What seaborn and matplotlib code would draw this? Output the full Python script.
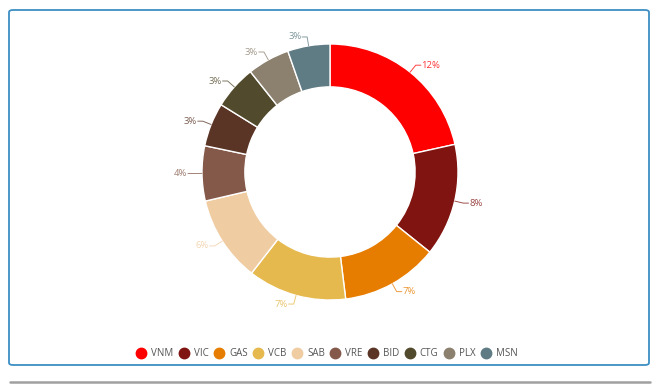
import matplotlib
matplotlib.use("Agg")
import matplotlib.pyplot as plt
from matplotlib.patches import FancyBboxPatch
from matplotlib.lines import Line2D
import numpy as np
import seaborn as sns

tickers = ["VNM", "VIC", "GAS", "VCB", "SAB", "VRE", "BID", "CTG", "PLX", "MSN"]
weights = [12.1, 8.0, 6.9, 7.0, 6.1, 3.9, 3.1, 3.1, 3.0, 3.0]
labels = ["12%", "8%", "7%", "7%", "6%", "4%", "3%", "3%", "3%", "3%"]
colors = ["#FF0000", "#7F1410", "#E67C00", "#E5B94D", "#F0CCA2",
          "#85594A", "#5A3526", "#524A2C", "#8C806F", "#5F7B83"]

sns.set_theme(style="white")
plt.rcParams['font.family'] = ['Open Sans', 'DejaVu Sans']
palette = sns.color_palette(colors)

fig = plt.figure(figsize=(6.6, 3.9), dpi=100)

# frame
frame = FancyBboxPatch((9 / 660, 1 - 365 / 390), 640 / 660, 355 / 390,
                       boxstyle="round,pad=0,rounding_size=0.006",
                       transform=fig.transFigure, facecolor="none",
                       edgecolor="#3D8FC4", linewidth=1.3, zorder=0)
fig.patches.append(frame)
fig.add_artist(Line2D([10 / 660, 650 / 660], [1 - 382 / 390, 1 - 382 / 390],
                      transform=fig.transFigure, color="#A0A0A0", linewidth=1.8))

# axes for pie: radius 1 -> 128 px, limits +-1.5
cx, cy = 330, 172
R = 128
half = 1.5 * R
ax = fig.add_axes([(cx - half) / 660, (390 - cy - half) / 390, 2 * half / 660, 2 * half / 390])
ax.patch.set_alpha(0)
wedges, _ = ax.pie(weights, colors=palette, startangle=90, counterclock=False,
                   radius=1.0, wedgeprops=dict(width=0.335, edgecolor="white", linewidth=1.0))
ax.set_xlim(-1.5, 1.5)
ax.set_ylim(-1.5, 1.5)
ax.set_aspect("equal")
ax.axis("off")

for w, lab, col in zip(wedges, labels, colors):
    ang = np.deg2rad((w.theta1 + w.theta2) / 2)
    x0, y0 = np.cos(ang), np.sin(ang)
    x1, y1 = 1.07 * x0, 1.07 * y0
    sign = 1 if x0 >= 0 else -1
    x2 = x1 + sign * 0.04
    ax.plot([x0, x1, x2], [y0, y1, y1], color=col, linewidth=0.7, alpha=0.75)
    ax.text(x2 + sign * 0.005, y1, lab, color=col, fontsize=6.8,
            ha="left" if sign > 0 else "right", va="center", alpha=0.8)

handles = [Line2D([0], [0], marker="o", linestyle="", markersize=7.5,
                  markerfacecolor=c, markeredgecolor=c) for c in colors]
fig.legend(handles, tickers, loc="center", bbox_to_anchor=(327 / 660, 1 - 354 / 390),
           ncol=10, frameon=False, fontsize=7, handletextpad=0.55, columnspacing=0.55,
           labelcolor="#555555", handlelength=1.0)

fig.savefig("out.png", dpi=100)
